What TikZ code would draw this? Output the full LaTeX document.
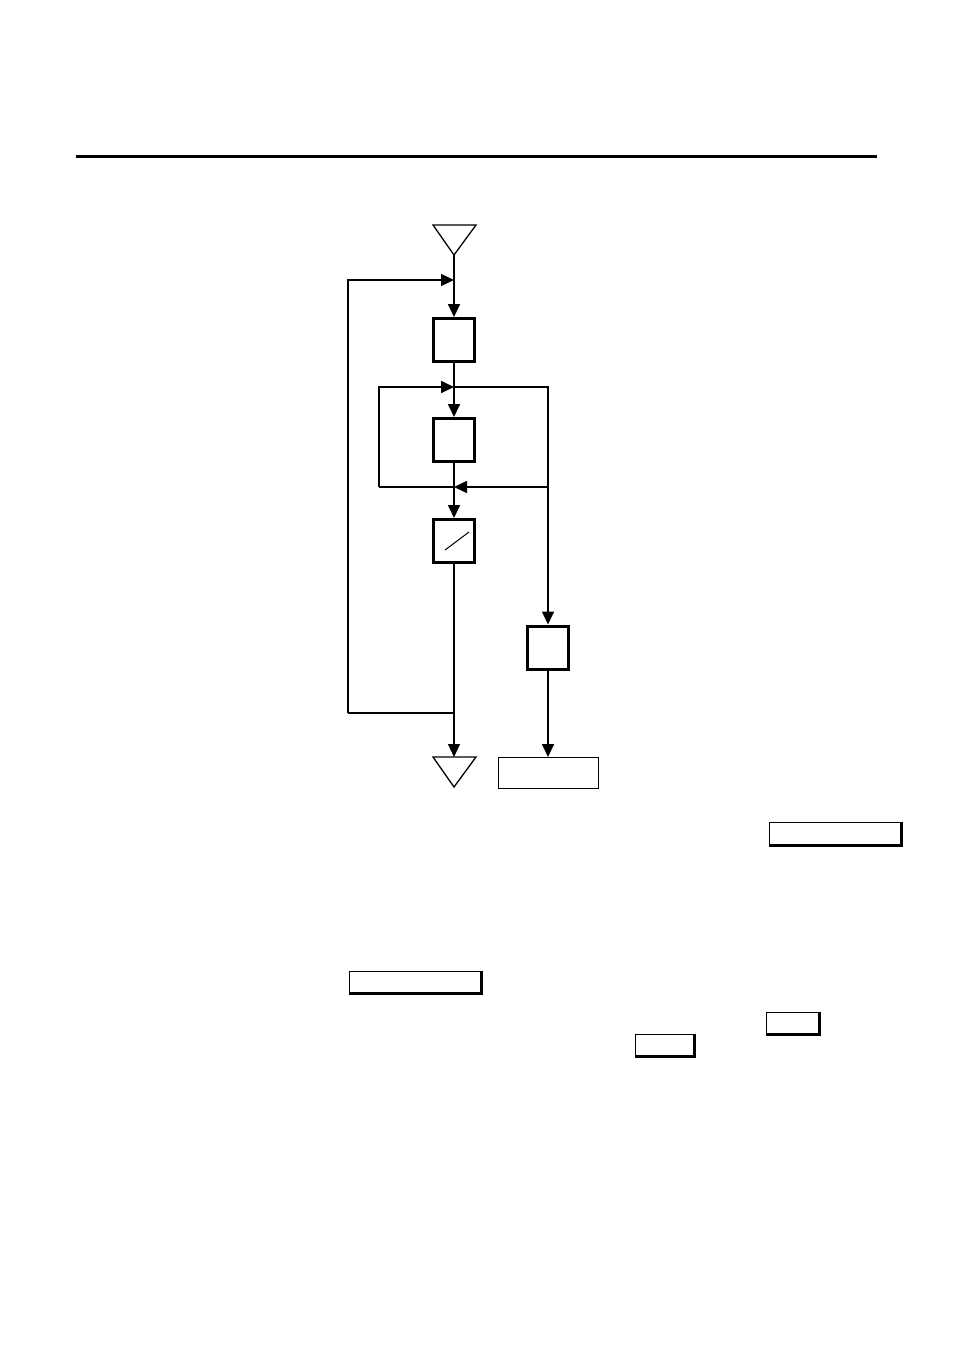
\documentclass[tikz,border=0pt]{standalone}
\usetikzlibrary{arrows.meta}
\begin{document}
\begin{tikzpicture}[x=1pt,y=-1pt,
  box/.style={draw,line width=3pt,minimum width=41pt,minimum height=43pt,inner sep=0pt},
  plain/.style={draw,line width=1pt,inner sep=0pt},
  flow/.style={line width=1.7pt},
  fine/.style={line width=1.1pt},
  arr/.style={-{Triangle[length=13pt,width=12pt]}}]
\useasboundingbox (0,0) rectangle (954,1351);
% rule
\draw[line width=3pt] (76,157) -- (877,157);
% key points
\coordinate (t1) at (454,255);
\coordinate (m1) at (454,280);
\coordinate (m2) at (454,387);
\coordinate (m3) at (454,487);
\coordinate (j)  at (454,713);
\coordinate (t2) at (454,757);
\coordinate (L1) at (348,280);
\coordinate (L2) at (348,713);
\coordinate (l1) at (379,387);
\coordinate (l2) at (379,487);
\coordinate (r1) at (548,387);
\coordinate (r2) at (548,487);
% boxes
\node[box] (b1) at (454,340) {};
\node[box] (b2) at (454,440) {};
\node[box] (b3) at (454,541) {};
\node[box] (b4) at (548,647.5) {};
\node[plain,minimum width=100pt,minimum height=31pt] (out) at (548.5,773) {};
\draw[line width=1pt] (445,550) -- (469,532);
% triangles
\draw[line width=1.3pt] (433,225) -- (476,225) -- (t1) -- cycle;
\draw[line width=1.3pt] (433,757) -- (476,757) -- (454,787) -- cycle;
% connectors
\draw[flow] (t1) -- (m1);
\draw[flow,arr] (m1) -- (b1);
\draw[fine,arr] (L2) -- (L1) -- (m1);
\draw[flow] (b1) -- (m2);
\draw[flow,arr] (m2) -- (b2);
\draw[flow,arr] (l2) -- (l1) -- (m2);
\draw[flow] (m2) -- (r1) -- (r2);
\draw[flow,arr] (r2) -- (b4);
\draw[flow,arr] (r2) -- (m3);
\draw[flow] (m3) -- (l2);
\draw[flow] (b2) -- (m3);
\draw[flow,arr] (m3) -- (b3);
\draw[fine] (b3) -- (j);
\draw[fine,arr] (j) -- (t2);
\draw[fine] (j) -- (L2);
\draw[flow,arr] (b4.south) -- (b4.south |- out.north);
% shadowed blank fields
\node[plain,minimum width=132pt,minimum height=23pt] (f1) at (835,833.5) {};
\draw[line width=2.5pt] (f1.north east) -- (f1.south east) -- (f1.south west);
\node[plain,minimum width=132pt,minimum height=22pt] (f2) at (415,982) {};
\draw[line width=2.5pt] (f2.north east) -- (f2.south east) -- (f2.south west);
\node[plain,minimum width=53pt,minimum height=22pt] (f3) at (792.5,1023) {};
\draw[line width=2.5pt] (f3.north east) -- (f3.south east) -- (f3.south west);
\node[plain,minimum width=59pt,minimum height=22pt] (f4) at (664.5,1045) {};
\draw[line width=2.5pt] (f4.north east) -- (f4.south east) -- (f4.south west);
\end{tikzpicture}
\end{document}
